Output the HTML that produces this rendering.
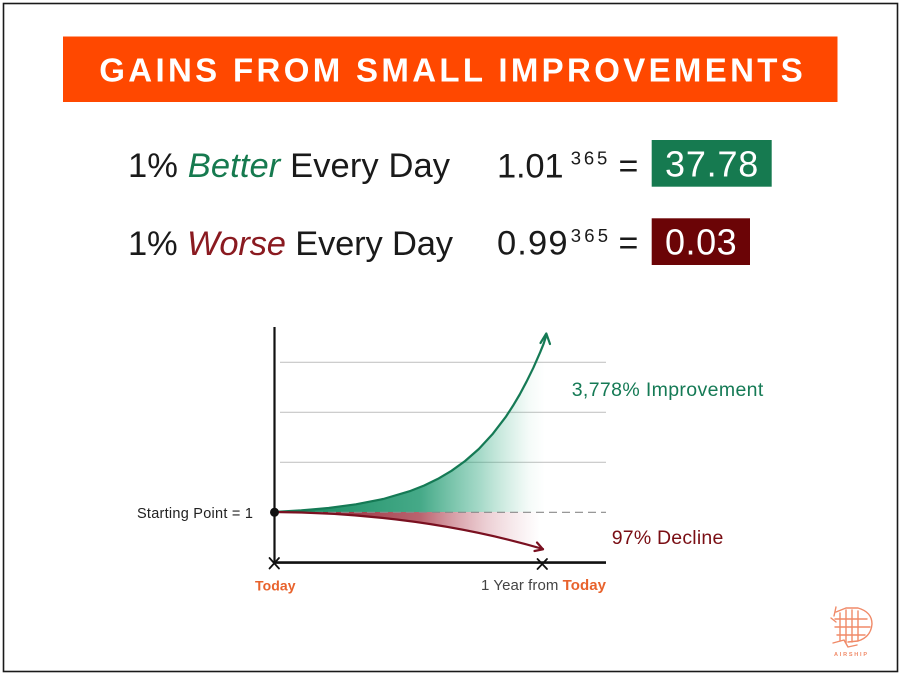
<!DOCTYPE html>
<html>
<head>
<meta charset="utf-8">
<style>
  html, body { margin: 0; padding: 0; background: #ffffff; }
  body { width: 900px; height: 675px; overflow: hidden; }
  svg { display: block; }
  text { font-family: "Liberation Sans", "DejaVu Sans", sans-serif; }
</style>
</head>
<body>
<svg width="900" height="675" viewBox="0 0 900 675" xmlns="http://www.w3.org/2000/svg">
  <defs>
    <linearGradient id="gGreen" gradientUnits="userSpaceOnUse" x1="274" y1="0" x2="545" y2="0">
      <stop offset="0" stop-color="#0f8558" stop-opacity="1"/>
      <stop offset="0.54" stop-color="#17946a" stop-opacity="0.8"/>
      <stop offset="0.76" stop-color="#2aa57c" stop-opacity="0.42"/>
      <stop offset="0.94" stop-color="#4db890" stop-opacity="0.06"/>
      <stop offset="1" stop-color="#4db890" stop-opacity="0"/>
    </linearGradient>
    <linearGradient id="gRed" gradientUnits="userSpaceOnUse" x1="274" y1="0" x2="540" y2="0">
      <stop offset="0" stop-color="#7e0f20" stop-opacity="1"/>
      <stop offset="0.55" stop-color="#a3303f" stop-opacity="0.75"/>
      <stop offset="0.8" stop-color="#c06070" stop-opacity="0.3"/>
      <stop offset="1" stop-color="#d08090" stop-opacity="0"/>
    </linearGradient>
  </defs>

  <!-- outer frame -->
  <rect x="3.5" y="3.5" width="894" height="668" fill="#ffffff" stroke="#1a1a1a" stroke-width="1.6"/>

  <!-- title banner -->
  <rect x="63" y="36.5" width="774.5" height="65.5" fill="#ff4800"/>
  <text x="99.3" y="81.7" font-size="33" font-weight="bold" fill="#ffffff" textLength="703.5">GAINS FROM SMALL IMPROVEMENTS</text>

  <!-- Row 1 -->
  <text x="128" y="177" font-size="34.5" fill="#1a1a1a" textLength="322">1% <tspan font-style="italic" fill="#167a4f">Better</tspan> Every Day</text>
  <text x="497" y="177.3" font-size="34.5" fill="#1a1a1a" textLength="66.5">1.01</text>
  <text x="570.7" y="164.3" font-size="18.5" fill="#1a1a1a" textLength="36.6">365</text>
  <text x="618.5" y="177.3" font-size="34" fill="#1a1a1a">=</text>
  <rect x="651.7" y="140" width="120" height="46.7" fill="#167a50"/>
  <text x="665" y="176.7" font-size="36" fill="#ffffff" textLength="93.3">37.78</text>

  <!-- Row 2 -->
  <text x="128" y="255" font-size="34.5" fill="#1a1a1a" textLength="325">1% <tspan font-style="italic" fill="#8a1a20">Worse</tspan> Every Day</text>
  <text x="497" y="254.5" font-size="34.5" fill="#1a1a1a" textLength="70.5">0.99</text>
  <text x="570.7" y="242" font-size="18.5" fill="#1a1a1a" textLength="37.3">365</text>
  <text x="618.5" y="254.5" font-size="34" fill="#1a1a1a">=</text>
  <rect x="651.7" y="218.3" width="98.3" height="46.7" fill="#6b0406"/>
  <text x="665" y="254.5" font-size="36" fill="#ffffff" textLength="71.7">0.03</text>

  <!-- chart gridlines -->
  <g stroke="#c6c6c6" stroke-width="1.2">
    <line x1="280" y1="362.3" x2="606" y2="362.3"/>
    <line x1="280" y1="412.3" x2="606" y2="412.3"/>
    <line x1="280" y1="462.3" x2="606" y2="462.3"/>
  </g>

  <!-- fills -->
  <path d="M274,512 L301.3,510.4 L328.6,508 L355.9,504.3 L383.2,499 L410.5,490.9 L424.2,485.5 L437.8,478.9 L451.5,470.8 L465.1,461 L478.8,449 L492.4,434.3 L506.1,416.4 L512.9,405.9 L519.7,394.5 L526.5,381.7 L533.4,367.7 L540.2,352.2 L543.6,343.8 L547,335 L547,512 Z" fill="url(#gGreen)"/>
  <path d="M274,512 Q420,513 543,549 L543,512 Z" fill="url(#gRed)"/>

  <!-- dashed baseline -->
  <line x1="276" y1="512.3" x2="606" y2="512.3" stroke="#8a8a8a" stroke-width="1.2" stroke-dasharray="8 5"/>

  <!-- curves -->
  <polyline points="274,512 301.3,510.4 328.6,508 355.9,504.3 383.2,499 410.5,490.9 424.2,485.5 437.8,478.9 451.5,470.8 465.1,461 478.8,449 492.4,434.3 506.1,416.4 512.9,405.9 519.7,394.5 526.5,381.7 533.4,367.7 540.2,352.2 543.6,343.8 546.5,335" fill="none" stroke="#157a55" stroke-width="2.2" stroke-linejoin="round" stroke-linecap="round"/>
  <polyline points="540.5,343 546.3,333.5 550,344" fill="none" stroke="#157a55" stroke-width="2.2" stroke-linejoin="round" stroke-linecap="round"/>

  <path d="M274,512 Q420,513 543,549" fill="none" stroke="#7a1020" stroke-width="2.2" stroke-linecap="round"/>
  <polyline points="537,542.5 543,549.3 534.5,551" fill="none" stroke="#7a1020" stroke-width="2.2" stroke-linejoin="round" stroke-linecap="round"/>

  <!-- axes -->
  <line x1="274.5" y1="327" x2="274.5" y2="563" stroke="#111111" stroke-width="2.2"/>
  <line x1="274" y1="562.6" x2="606" y2="562.6" stroke="#111111" stroke-width="2.6"/>
  <circle cx="274.5" cy="512.3" r="4.5" fill="#111111"/>
  <g stroke="#111111" stroke-width="1.8" stroke-linecap="round">
    <line x1="269.5" y1="558" x2="279" y2="568.5"/>
    <line x1="279" y1="558" x2="269.5" y2="568.5"/>
    <line x1="537.5" y1="559" x2="547" y2="569"/>
    <line x1="547" y1="559" x2="537.5" y2="569"/>
  </g>

  <!-- chart labels -->
  <text x="137" y="518" font-size="14.5" fill="#222222" textLength="116">Starting Point = 1</text>
  <text x="255" y="590.5" font-size="14" font-weight="bold" fill="#e8622c" textLength="40.5">Today</text>
  <text x="481" y="590" font-size="15" fill="#444444" textLength="125">1 Year from <tspan font-weight="bold" fill="#e8622c">Today</tspan></text>
  <text x="571.7" y="395.8" font-size="19.5" fill="#157a55" textLength="191.6">3,778% Improvement</text>
  <text x="611.7" y="543.8" font-size="19.5" fill="#7a0e14" textLength="111.6">97% Decline</text>

  <!-- logo -->
  <g fill="none" stroke="#f08a68" stroke-width="1.4" stroke-linecap="round" stroke-linejoin="round">
    <path d="M836,612 L846,608 L858,608 Q872,612 872,624 Q871,637 858,641 L848,642"/>
    <path d="M840,613 L840,641 M846,610 L846,643 M852,610 L852,642 M858,611 L858,641"/>
    <path d="M835,619 L867,619 M835,627 L870,627 M837,635 L865,635"/>
    <path d="M833,643 L844,640 L848,647 L857,645"/>
    <path d="M836,607 L834,616 M831,618 L836,622"/>
  </g>
  <text x="834" y="656" font-size="5.5" font-weight="bold" fill="#f08a68" textLength="33">AIRSHIP</text>
</svg>
</body>
</html>
